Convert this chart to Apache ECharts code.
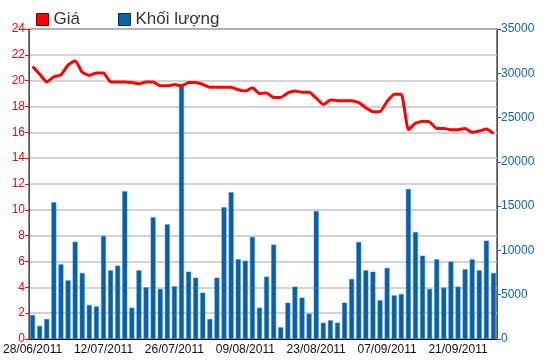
<!DOCTYPE html>
<html>
<head>
<meta charset="utf-8">
<script src="https://cdn.jsdelivr.net/npm/echarts@6/dist/echarts.min.js"></script>
<style>html,body{margin:0;padding:0;background:#fff;}#c{width:550px;height:364px;}</style>
</head>
<body>
<div id="c"></div>
<script>
const dates = [
 "28/06/2011","29/06/2011","30/06/2011","01/07/2011","04/07/2011","05/07/2011","06/07/2011","07/07/2011","08/07/2011","11/07/2011",
 "12/07/2011","13/07/2011","14/07/2011","15/07/2011","18/07/2011","19/07/2011","20/07/2011","21/07/2011","22/07/2011","25/07/2011",
 "26/07/2011","27/07/2011","28/07/2011","29/07/2011","01/08/2011","02/08/2011","03/08/2011","04/08/2011","05/08/2011","08/08/2011",
 "09/08/2011","10/08/2011","11/08/2011","12/08/2011","15/08/2011","16/08/2011","17/08/2011","18/08/2011","19/08/2011","22/08/2011",
 "23/08/2011","24/08/2011","25/08/2011","26/08/2011","29/08/2011","30/08/2011","31/08/2011","01/09/2011","05/09/2011","06/09/2011",
 "07/09/2011","08/09/2011","09/09/2011","12/09/2011","13/09/2011","14/09/2011","15/09/2011","16/09/2011","19/09/2011","20/09/2011",
 "21/09/2011","22/09/2011","23/09/2011","26/09/2011","27/09/2011","28/09/2011"
];
const price = [
 21.1,20.5,19.9,20.3,20.45,21.2,21.55,20.65,20.4,20.6,
 20.6,19.9,19.9,19.9,19.85,19.75,19.9,19.9,19.6,19.6,
 19.7,19.6,19.85,19.85,19.7,19.5,19.5,19.5,19.5,19.3,
 19.2,19.45,19.0,19.05,18.7,18.7,19.05,19.2,19.1,19.1,
 18.65,18.15,18.5,18.45,18.45,18.45,18.3,17.9,17.6,17.6,
 18.4,18.95,18.95,16.2,16.7,16.85,16.8,16.3,16.3,16.2,
 16.2,16.3,16.0,16.1,16.25,15.9
];
const volume = [
 2710,1470,2260,15430,8430,6620,10990,7450,3840,3690,
 11630,7750,8280,16670,3540,7750,5830,13740,5650,12950,
 5950,28800,7600,6920,5230,2260,6920,14870,16560,9000,
 8840,11520,3540,7040,10650,1320,4100,5910,4670,2860,
 14450,1840,2110,1840,4100,6770,10950,7750,7600,4370,
 8020,4930,5080,16940,12080,9410,5650,9000,5800,8730,
 5910,7870,9000,7750,11100,7450
];
const seriesNames = ["Giá", "Khối lượng"];
const FONT = "Liberation Sans";
const chart = echarts.init(document.getElementById('c'), null, {renderer: 'canvas'});
chart.setOption({
  animation: false,
  textStyle: {fontFamily: FONT},
  legend: {
    left: 31, top: 6, itemGap: 38, itemWidth: 12, itemHeight: 12,
    icon: 'rect',
    textStyle: {fontSize: 17, color: '#333', fontFamily: FONT},
    data: [
      {name: seriesNames[0], itemStyle: {color: '#ff0000', borderColor: '#800000', borderWidth: 1}},
      {name: seriesNames[1], itemStyle: {color: '#0a64a8', borderColor: '#033', borderWidth: 1}}
    ]
  },
  grid: {left: 29, right: 53, top: 29, bottom: 25, show: true, borderColor: '#000', borderWidth: 1, backgroundColor: 'transparent'},
  xAxis: {
    type: 'category', data: dates, boundaryGap: true,
    axisLine: {lineStyle: {color: '#000', width: 1}},
    axisTick: {alignWithLabel: true, interval: 9, length: 4, lineStyle: {color: '#000'}},
    axisLabel: {interval: 9, color: '#111', fontSize: 12, margin: 5, fontFamily: FONT}
  },
  yAxis: [
    {
      type: 'value', min: 0, max: 24, interval: 2, position: 'left',
      axisLine: {show: true, lineStyle: {color: '#ff0000', width: 1}},
      axisTick: {show: true, length: 4, lineStyle: {color: '#ff0000'}},
      axisLabel: {color: '#ff0000', fontSize: 12, margin: 4, fontFamily: FONT},
      splitLine: {show: true, lineStyle: {color: '#c4c4c4', width: 1.5}}
    },
    {
      type: 'value', min: 0, max: 35000, interval: 5000, position: 'right',
      axisLine: {show: true, lineStyle: {color: '#1565a3', width: 1}},
      axisTick: {show: true, length: 4, lineStyle: {color: '#1565a3'}},
      axisLabel: {color: '#1565a3', fontSize: 12, margin: 4, fontFamily: FONT, formatter: function (v) { return String(v); }},
      splitLine: {show: false}
    }
  ],
  series: [
    {
      name: seriesNames[1], type: 'bar', yAxisIndex: 1, data: volume,
      barCategoryGap: '30%',
      itemStyle: {color: '#0a5fa6', borderColor: '#3d8ccc', borderWidth: 0.5},
      z: 2
    },
    {
      name: seriesNames[0], type: 'line', yAxisIndex: 0, data: price,
      showSymbol: false, symbol: 'none', smooth: 0.15,
      lineStyle: {color: '#ff0000', width: 3},
      itemStyle: {color: '#ff0000'},
      z: 3
    }
  ]
});
</script>
</body>
</html>
